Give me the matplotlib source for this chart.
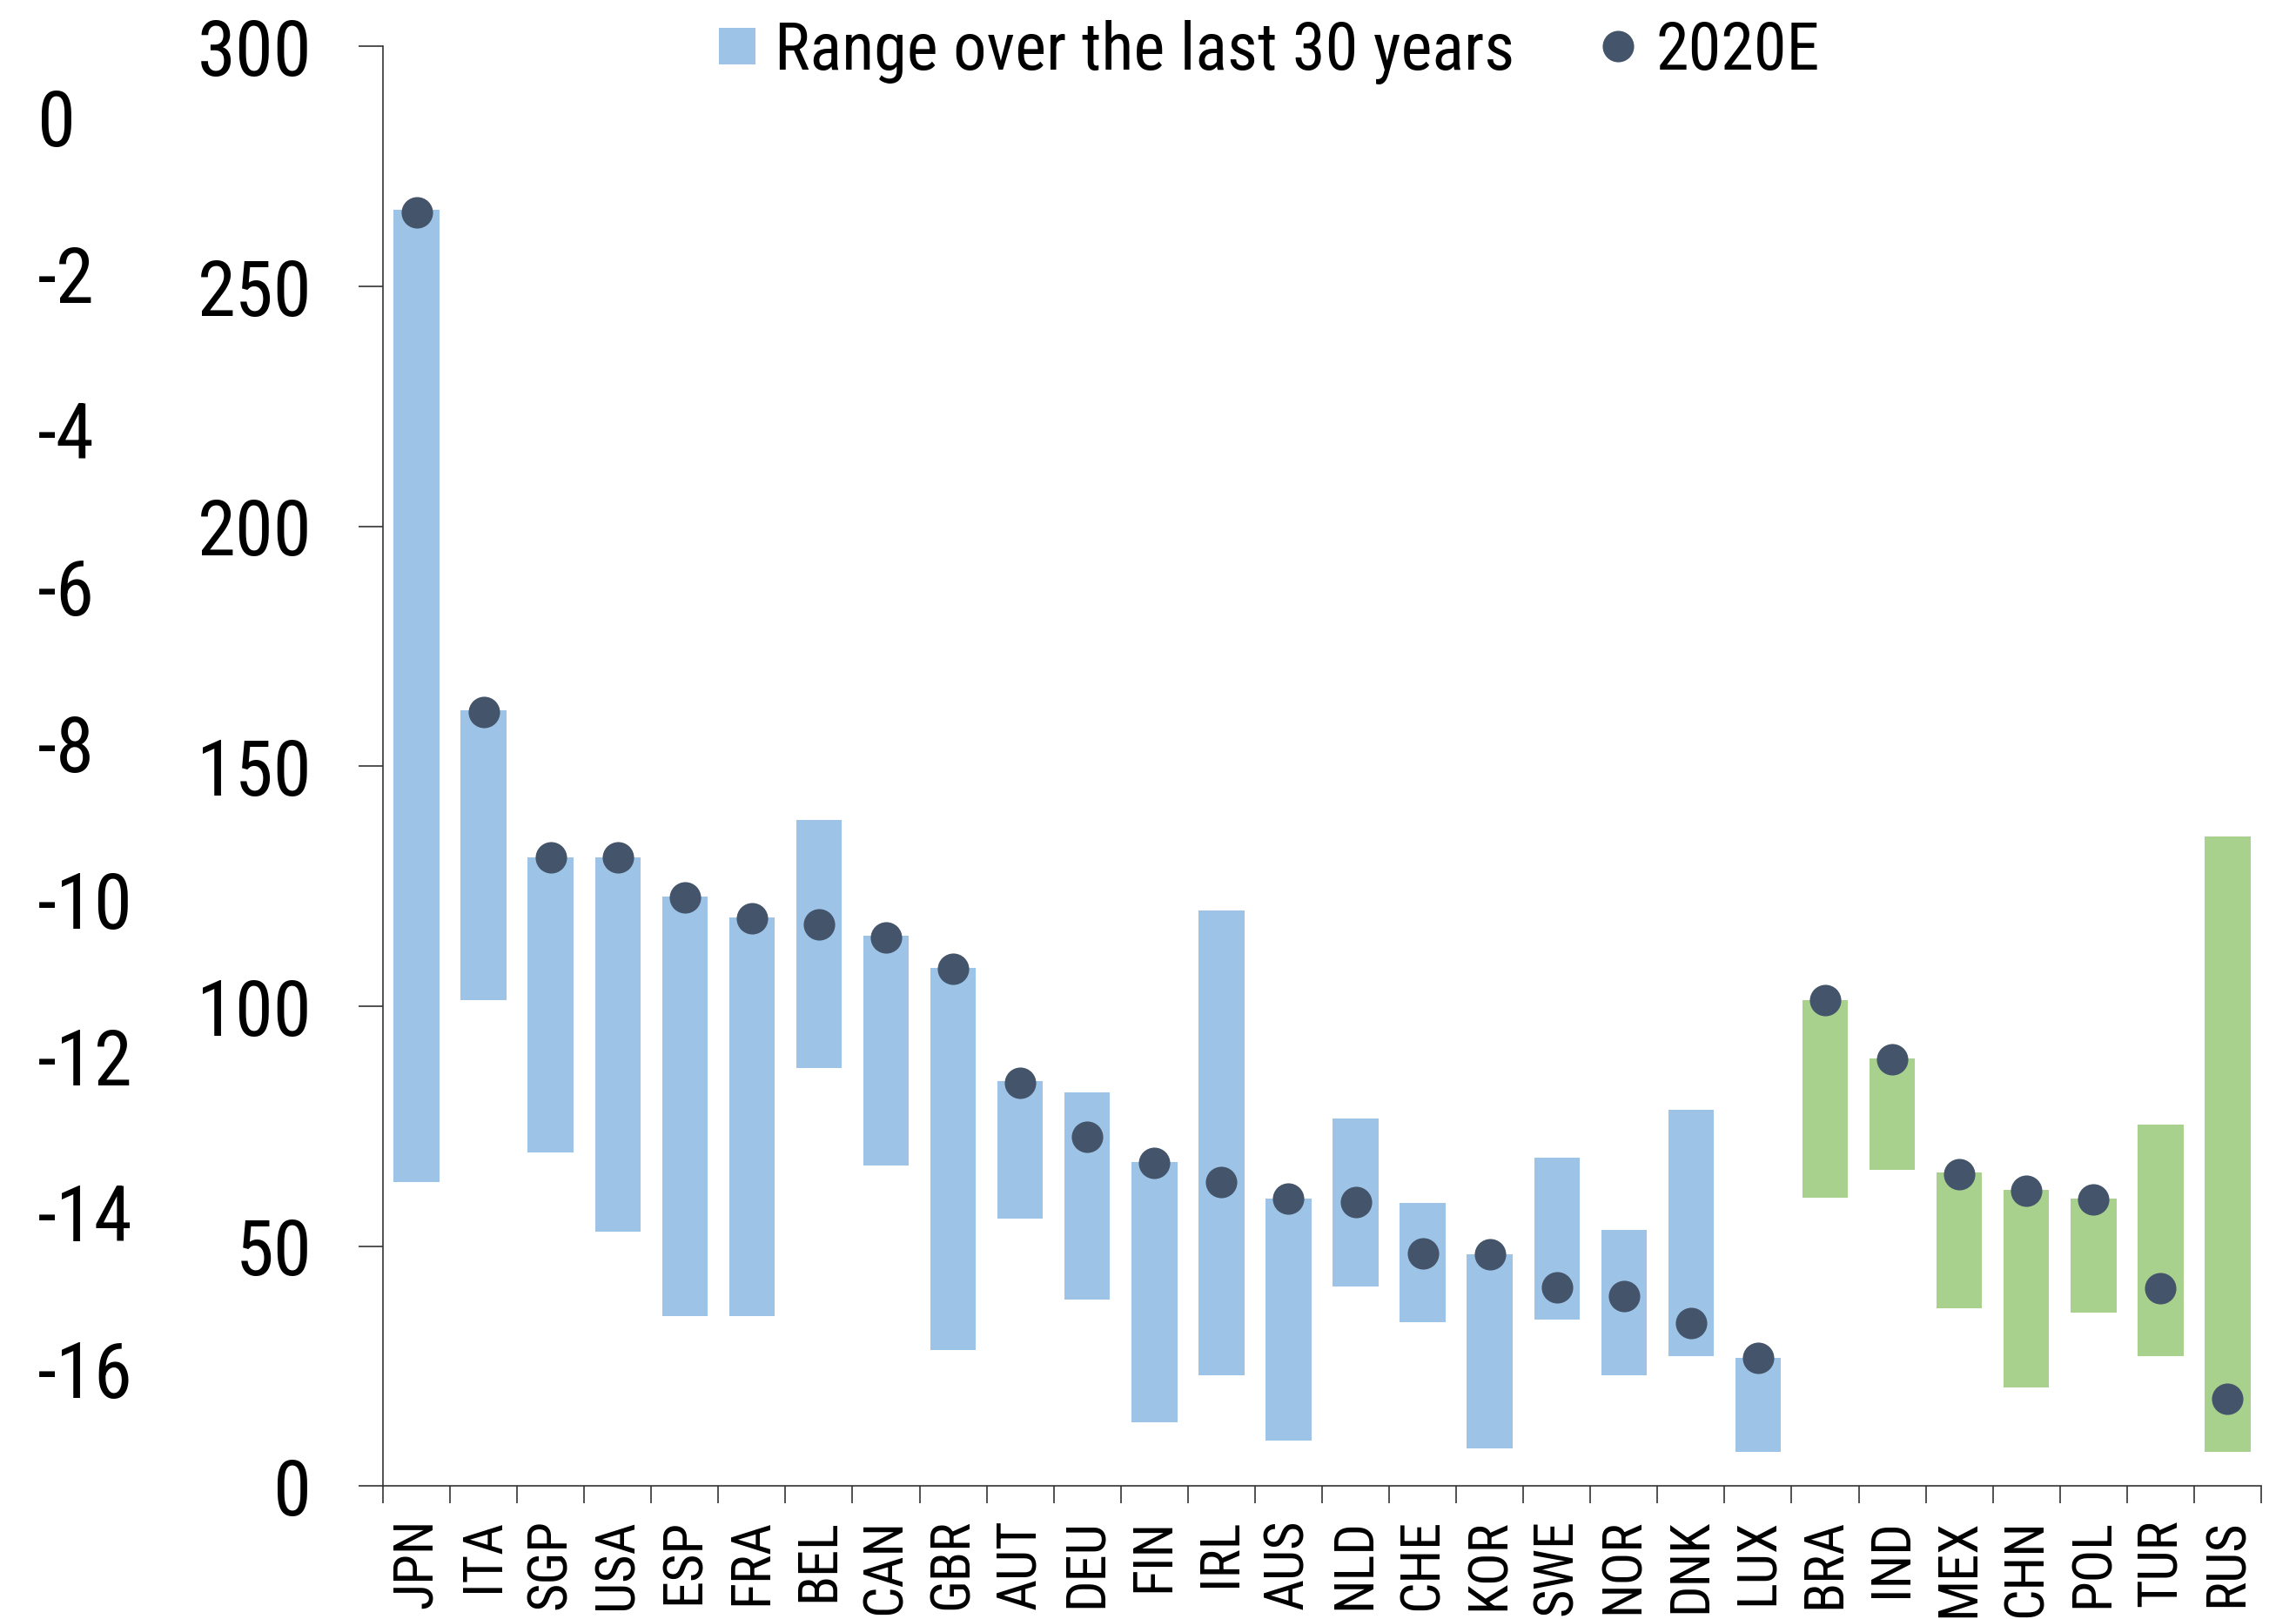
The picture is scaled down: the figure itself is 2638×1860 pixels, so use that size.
import numpy as np
import matplotlib
matplotlib.use("Agg")
import matplotlib.pyplot as plt
from matplotlib import font_manager
from matplotlib.lines import Line2D

# Data
countries = ["JPN", "ITA", "SGP", "USA", "ESP", "FRA", "BEL", "CAN", "GBR", "AUT",
             "DEU", "FIN", "IRL", "AUS", "NLD", "CHE", "KOR", "SWE", "NOR", "DNK",
             "LUX", "BRA", "IND", "MEX", "CHN", "POL", "TUR", "RUS"]
range_high = [265.9, 161.6, 131.0, 131.0, 122.8, 118.5, 138.9, 114.7, 108.0, 84.4,
              82.0, 67.6, 120.0, 60.0, 76.6, 59.0, 48.3, 68.4, 53.5, 78.5,
              26.7, 101.2, 89.1, 65.3, 61.7, 59.9, 75.4, 135.4]
range_low = [63.3, 101.2, 69.5, 53.0, 35.4, 35.4, 87.1, 66.8, 28.3, 55.7,
             38.9, 13.4, 23.2, 9.5, 41.6, 34.2, 7.8, 34.7, 23.2, 27.1,
             7.1, 60.2, 66.0, 37.1, 20.6, 36.2, 27.2, 7.2]
value_2020 = [265.5, 161.4, 131.0, 131.0, 122.7, 118.3, 117.0, 114.3, 107.8, 84.1,
              72.8, 67.3, 63.4, 60.0, 59.2, 48.5, 48.3, 41.5, 39.6, 34.0,
              26.7, 101.2, 89.0, 65.1, 61.5, 59.7, 41.2, 18.3]
n_advanced = 21  # first 21 are advanced economies (blue), rest emerging (green)

left_ticks = list(range(-16, 1, 2))
main_ticks = list(range(0, 301, 50))

blue = "#9DC3E6"
green = "#A9D18E"
dot_color = "#44546A"

# narrow Arial-like font if one is available
names = {f.name for f in font_manager.fontManager.ttflist}
fam = "Liberation Sans"
for cand in ["Liberation Sans Narrow", "Arial Narrow", "Roboto Condensed",
             "DejaVu Sans Condensed", "Open Sans Condensed", "Noto Sans Condensed"]:
    if cand in names:
        fam = cand
        break
narrow = fam != "Liberation Sans"
plt.rcParams["font.family"] = [fam, "DejaVu Sans"]
plt.rcParams["axes.unicode_minus"] = False

# sizes tuned for a narrow face; shrink a bit for a normal-width one
k = 1.0 if narrow else 0.85
tick_fs = 64 * k
cat_fs = 45 * k
leg_fs = 55 * k

fig = plt.figure(figsize=(26.38, 18.60), dpi=100)
ax = fig.add_axes([0.16679, 0.08199, 0.81804, 0.88935])

x = np.arange(len(countries))
lo = np.array(range_low)
hi = np.array(range_high)
colors = [blue if i < n_advanced else green for i in range(len(countries))]

ax.bar(x, hi - lo, bottom=lo, width=0.68, color=colors, zorder=2)
ax.plot(x, value_2020, linestyle="none", marker="o", markersize=26,
        color=dot_color, markeredgewidth=0, zorder=3)

ax.set_xlim(-0.5, len(countries) - 0.5)
ax.set_ylim(0, 300)
ax.set_yticks(main_ticks)
ax.set_xticks(x)
ax.set_xticklabels(countries, rotation=90)
ax.set_xticks(np.arange(-0.5, len(countries), 1.0), minor=True)

for s in ["top", "right"]:
    ax.spines[s].set_visible(False)
for s in ["left", "bottom"]:
    ax.spines[s].set_color("#333333")
    ax.spines[s].set_linewidth(1.2)

ax.tick_params(axis="y", which="major", length=20, width=1.2, color="#333333",
               labelsize=tick_fs, pad=39)
ax.tick_params(axis="x", which="major", length=0, labelsize=cat_fs, pad=27)
ax.tick_params(axis="x", which="minor", length=14.4, width=1.2, color="#333333")

# second (left) scale
ax2 = ax.twinx()
ax2.set_ylim(-17.5, 0.9)
ax2.set_yticks(left_ticks)
ax2.yaxis.set_ticks_position("left")
for s in ax2.spines.values():
    s.set_visible(False)
ax2.tick_params(axis="y", length=0, labelsize=tick_fs, pad=286)
for lbl in ax2.get_yticklabels():
    lbl.set_horizontalalignment("left")

handles = [
    Line2D([], [], linestyle="none", marker="s", markersize=30, color=blue, markeredgewidth=0),
    Line2D([], [], linestyle="none", marker="o", markersize=26, color=dot_color, markeredgewidth=0),
]
fig.legend(handles, ["Range over the last 30 years", "2020E"], loc="center",
           bbox_to_anchor=(0.5531, 0.968), bbox_transform=fig.transFigure,
           ncol=2, frameon=False, fontsize=leg_fs, handlelength=0.52,
           handletextpad=0.3, columnspacing=1.3, borderpad=0, borderaxespad=0)

fig.savefig("out.png", dpi=100)
